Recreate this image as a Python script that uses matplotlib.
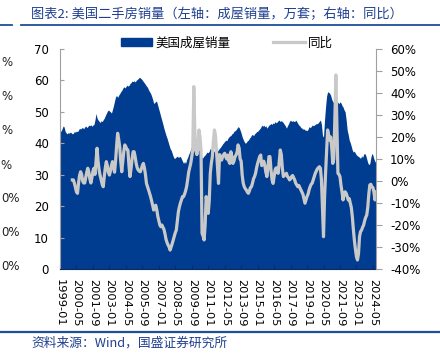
import numpy as np
import pandas as pd
import matplotlib
matplotlib.use("Agg")
import matplotlib.pyplot as plt
from matplotlib.patches import Patch
from matplotlib.lines import Line2D

plt.rcParams["font.family"] = ["DejaVu Sans", "Noto Sans CJK SC"]

# existing home sales (left axis), monthly from 1999-01
sales = [
    44.0, 43.8, 44.6, 45.5, 45.2, 43.8, 43.3, 43.0, 43.4, 43.2, 43.6, 43.3,  # 1999
    43.0, 43.2, 43.8, 43.5, 43.9, 43.7, 44.2, 44.8, 44.5, 44.9, 45.0, 44.6,  # 2000
    45.2, 45.5, 45.0, 45.3, 45.8, 45.6, 45.9, 45.4, 45.8, 46.0, 47.5, 49.5,  # 2001
    48.0, 47.4, 47.0, 46.6, 47.2, 46.9, 47.5, 48.0, 48.8, 49.5, 50.2, 50.6,  # 2002
    50.3, 50.0, 49.6, 50.8, 52.0, 53.5, 54.8, 55.2, 54.6, 55.3, 55.8, 56.4,  # 2003
    56.8, 57.5, 58.0, 57.6, 58.0, 58.5, 58.2, 58.4, 59.0, 59.3, 59.8, 59.6,  # 2004
    59.9, 59.5, 60.0, 60.3, 60.6, 61.0, 60.8, 60.5, 60.1, 59.6, 59.2, 58.7,  # 2005
    58.2, 57.8, 57.0, 56.4, 55.9, 55.0, 54.0, 52.7, 52.9, 53.4, 53.2, 52.0,  # 2006
    50.8, 49.6, 48.4, 47.2, 46.0, 44.7, 43.6, 42.5, 41.6, 40.5, 39.4, 38.3,  # 2007
    37.8, 36.8, 35.8, 35.2, 35.3, 35.7, 35.9, 35.5, 35.7, 35.8, 35.0, 34.3,  # 2008
    33.6, 34.2, 33.6, 34.8, 35.5, 36.5, 37.2, 38.2, 38.9, 39.3, 39.5, 38.0,  # 2009
    37.0, 36.5, 37.2, 37.8, 38.0, 36.5, 35.2, 35.5, 36.0, 36.3, 36.8, 37.2,  # 2010
    37.0, 37.5, 38.4, 38.0, 37.5, 37.2, 37.6, 37.3, 37.8, 37.5, 38.0, 38.4,  # 2011
    38.8, 39.3, 39.8, 40.2, 40.6, 41.0, 40.8, 41.5, 42.0, 42.3, 42.5, 43.0,  # 2012
    43.2, 43.8, 44.0, 44.3, 44.8, 45.3, 45.0, 44.2, 43.2, 42.0, 41.2, 40.5,  # 2013
    40.0, 40.3, 40.8, 41.0, 41.6, 42.0, 42.6, 42.8, 42.4, 43.0, 43.3, 43.7,  # 2014
    43.8, 44.2, 44.6, 45.0, 45.8, 45.4, 45.8, 45.2, 45.6, 44.8, 45.3, 45.8,  # 2015
    46.0, 46.3, 46.0, 46.5, 46.3, 46.9, 46.5, 46.8, 47.2, 47.4, 46.9, 47.2,  # 2016
    46.9, 46.5, 46.0, 45.5, 44.8, 45.6, 46.2, 47.0, 47.4, 46.9, 47.2, 47.0,  # 2017
    46.9, 47.4, 46.9, 46.3, 45.8, 45.5, 45.0, 44.8, 44.5, 44.6, 44.2, 44.2,  # 2018
    44.0, 44.5, 45.3, 45.0, 45.3, 45.8, 45.6, 45.8, 46.0, 46.3, 46.2, 46.6,  # 2019
    47.0, 47.4, 46.0, 42.5, 42.0, 47.5, 51.6, 55.0, 56.4, 56.2, 55.9, 55.2,  # 2020
    54.0, 53.2, 53.0, 52.2, 52.5, 53.2, 53.0, 52.6, 53.2, 52.8, 52.0, 51.5,  # 2021
    50.6, 50.0, 47.5, 44.2, 42.8, 41.0, 40.2, 39.0, 37.8, 37.2, 37.5, 36.8,  # 2022
    36.3, 36.0, 35.8, 35.5, 35.2, 36.0, 35.5, 36.5, 36.8, 36.2, 35.0, 33.8,  # 2023
    33.2, 33.6, 35.5, 36.8, 36.2, 35.0, 34.2, 33.8,  # 2024
]

# year-over-year change in % (right axis), starts 2000-01
yoy = [
    0.5, 0.5, -1.0, -3.0, -5.0, -5.6, -1.0, 2.5, 4.2, 3.0, 0.0, -0.9,  # 2000
    -0.9, 1.5, 4.0, 5.8, 4.0, 1.0, -0.9, 1.5, 4.5, 5.8, 3.0, 9.0,  # 2001
    14.9, 9.0, 5.0, 2.5, 0.5, -1.5, -2.6, 2.0, 6.0, 8.8, 7.0, 4.0,  # 2002
    2.7, 4.5, 7.0, 8.8, 6.5, 4.0, 9.0, 16.0, 21.7, 19.0, 15.6, 9.0,  # 2003
    4.2, 9.0, 13.5, 16.4, 15.5, 14.5, 14.0, 7.0, 2.0, 5.5, 10.0, 13.3,  # 2004
    13.3, 11.0, 8.0, 6.0, 5.0, 4.5, 4.2, 5.5, 7.0, 8.0, 6.0, 3.0,  # 2005
    -1.1, -2.5, -4.0, -5.5, -7.1, -9.0, -11.0, -13.2, -12.0, -11.0, -13.0, -16.0,  # 2006
    -18.0, -20.0, -20.8, -20.0, -21.0, -22.0, -24.0, -26.5, -28.0, -29.1, -30.0, -31.4,  # 2007
    -30.0, -28.5, -26.8, -25.0, -23.5, -22.3, -18.0, -14.0, -11.7, -10.0, -8.5, -7.1,  # 2008
    -7.1, -6.0, -4.5, -2.6, 0.5, 4.0, 6.0, 8.0, 11.0, 14.1, 42.9, 22.0,  # 2009
    14.0, 12.0, 15.0, 23.2, 20.0, 14.0, -23.8, -25.0, -26.8, -20.0, -7.1, -10.0,  # 2010
    -14.7, -9.0, 3.5, 8.0, 11.1, 18.0, 23.2, 21.0, 14.1, 6.5, -1.1, 12.0,  # 2011
    11.0, 9.5, 11.1, 12.0, 12.6, 11.0, 10.0, 11.8, 9.0, 8.0, 13.3, 11.0,  # 2012
    8.0, 9.0, 11.0, 11.8, 13.0, 16.4, 15.0, 10.0, 9.0, 2.7, -1.0, -2.6,  # 2013
    -3.5, -4.1, -5.0, -5.6, -4.5, -3.0, -2.6, -1.0, 1.0, 2.0, 3.5, 6.0,  # 2014
    8.0, 9.5, 11.1, 11.8, 7.0, 8.0, 9.0, 7.0, 4.0, 2.0, 6.0, 11.1,  # 2015
    11.1, 5.0, 0.5, -1.1, 2.0, 5.0, 6.0, 4.0, 3.5, 9.0, 14.1, 12.0,  # 2016
    6.0, 2.0, 2.5, 3.0, 3.5, 2.0, 1.5, 0.5, 1.0, 2.0, 2.5, 1.5,  # 2017
    0.5, -1.0, -1.8, -2.6, -2.0, -3.0, -4.1, -5.0, -6.0, -8.0, -10.1, -8.5,  # 2018
    -7.0, -6.0, -4.0, -2.6, -1.5, -1.0, 0.5, 2.0, 3.5, 4.5, 5.5, 6.0,  # 2019
    6.5, 5.8, 0.5, -12.0, -25.3, -8.0, 3.5, 13.0, 23.2, 21.0, 18.6, 20.0,  # 2020
    15.0, 8.0, 10.0, 28.0, 48.2, 25.0, 3.5, 3.0, 2.0, -2.0, -5.0, -8.6,  # 2021
    -6.0, -4.9, -5.6, -7.0, -8.6, -8.0, -10.0, -12.0, -16.2, -22.0, -27.0, -31.0,  # 2022
    -34.4, -35.9, -33.0, -25.3, -23.0, -22.3, -21.0, -20.0, -18.0, -16.5, -15.5, -12.0,  # 2023
    -6.0, -1.8, -1.5, -2.6, -3.0, -5.0, -8.6, -5.0,  # 2024
]

# visible remains of the neighbouring chart's axis at the left edge
side_labels = ["%", "%", "%", "%", "0%", "0%", "0%"]

title = "图表2: 美国二手房销量（左轴：成屋销量，万套；右轴：同比）"
source = "资料来源：Wind，国盛证券研究所"

months = pd.date_range("1999-01", periods=len(sales), freq="MS")
x = np.arange(len(sales))
yoy_full = np.array([np.nan] * (len(sales) - len(yoy)) + yoy) / 100

tick_pos = np.arange(0, len(sales), 16)
tick_labels = months[tick_pos].strftime("%Y-%m")

W, H = 440, 361
fig = plt.figure(figsize=(W / 100, H / 100), dpi=100)

navy = "#003C8F"
gray = "#C9C9C9"
text_blue = "#1F3F8F"

ax = fig.add_axes([60 / W, 1 - 269 / H, 316 / W, 220 / H])
ax.fill_between(x, 0, sales, color=navy, linewidth=0)
ax.set_xlim(0, len(sales) - 1)
ax.set_ylim(0, 70)
ax.set_yticks(range(0, 71, 10))
ax.tick_params(axis="y", direction="in", length=3, color="#A0A0A0",
               labelsize=8.5, pad=8)
ax.set_xticks(tick_pos)
ax.set_xticklabels(tick_labels, rotation=270, fontsize=8.2)
ax.tick_params(axis="x", direction="in", length=3, color="#0B2A66", pad=7)
ax.spines["top"].set_visible(False)
ax.spines["right"].set_visible(False)
ax.spines["left"].set_color("#A0A0A0")
ax.spines["bottom"].set_color("#0B2A66")

ax2 = ax.twinx()
ax2.plot(x, yoy_full, color=gray, lw=2.3)
ax2.set_ylim(-0.4, 0.6)
ax2.set_yticks(np.arange(-0.4, 0.61, 0.1))
ax2.set_yticklabels([f"{v:.0f}%" for v in np.arange(-40, 61, 10)])
ax2.tick_params(axis="y", direction="out", length=4, color="#A0A0A0",
                labelsize=8.5, pad=6)
for s in ["top", "left", "bottom"]:
    ax2.spines[s].set_visible(False)
ax2.spines["right"].set_color("#A0A0A0")

handles = [Patch(color=navy), Line2D([], [], color=gray, lw=2.3)]
fig.legend(handles, ["美国成屋销量", "同比"], ncol=2, frameon=False,
           loc="center", bbox_to_anchor=(227 / W, 1 - 43 / H),
           prop={"family": ["Noto Sans CJK SC"], "size": 9},
           handlelength=2.5, handleheight=0.6, handletextpad=0.3,
           columnspacing=3.4, borderpad=0)

fig.text(31 / W, 1 - 14 / H, title, color=text_blue, fontsize=9.5,
         family=["Noto Sans CJK SC", "DejaVu Sans"], va="center", ha="left")
fig.text(31 / W, 1 - 343 / H, source, color=text_blue, fontsize=9.2,
         family=["Noto Sans CJK SC", "DejaVu Sans"], va="center", ha="left")

fig.add_artist(Line2D([0, 12 / W], [1 - 25 / H] * 2, color="#1F4E9A", lw=1.3))
fig.add_artist(Line2D([21 / W, 1], [1 - 25 / H] * 2, color="#1F4E9A", lw=1.3))
fig.add_artist(Line2D([0, 1], [1 - 332 / H] * 2, color="#1F4E9A", lw=1.6))

for i, lab in enumerate(side_labels):
    xr = {3: 11}.get(i, 20 if lab == "0%" else 12)
    fig.text(xr / W, 1 - (63 + 34 * i) / H, lab, fontsize=8.5,
             va="center", ha="right", color="#222222")

fig.savefig("out.png", dpi=100)
